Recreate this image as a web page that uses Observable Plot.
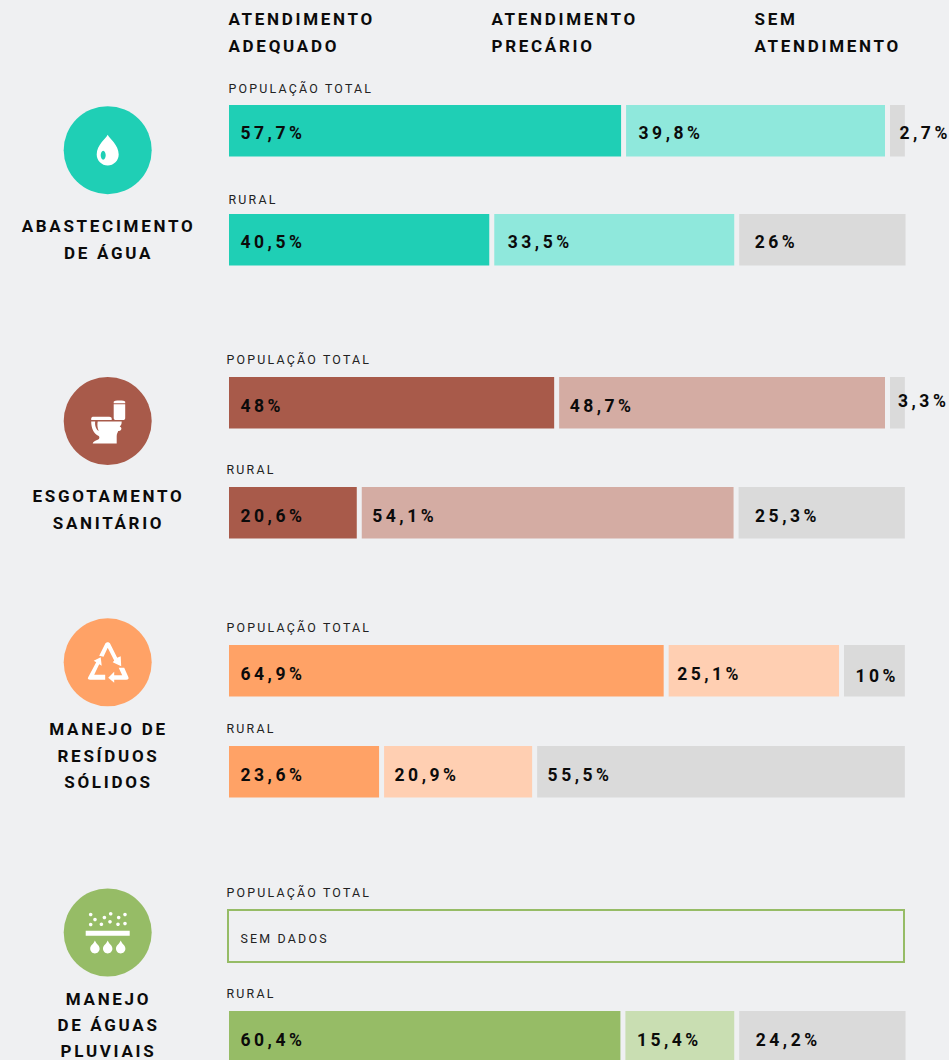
<!DOCTYPE html>
<html lang="pt-BR">
<head>
<meta charset="utf-8">
<script src="https://cdn.jsdelivr.net/npm/d3@7"></script>
<script src="https://cdn.jsdelivr.net/npm/@observablehq/plot@0.6"></script>
<style>
html,body{margin:0;padding:0;background:#eff0f2;overflow:hidden}
svg{display:block}
g[font-size="17.5"] text{letter-spacing:3.5px}
g[font-size="17"] text{letter-spacing:2.7px}
g[font-size="12.4"] text{letter-spacing:2.2px}
</style>
</head>
<body>
<div id="chart"></div>
<script>
// ---- data ----
const headers = ["ATENDIMENTO\nADEQUADO", "ATENDIMENTO\nPRECÁRIO", "SEM\nATENDIMENTO"];
const services = ["ABASTECIMENTO\nDE ÁGUA", "ESGOTAMENTO\nSANITÁRIO", "MANEJO DE\nRESÍDUOS\nSÓLIDOS", "MANEJO\nDE ÁGUAS\nPLUVIAIS"];
const groups = ["POPULAÇÃO TOTAL", "RURAL"];
const noData = "SEM DADOS";

// printed percentages, [adequado, precário, sem], total then rural; null = sem dados
const aguaTotal = [57.7, 39.8, 2.7];
const aguaRural = [40.5, 33.5, 26];
const esgotoTotal = [48, 48.7, 3.3];
const esgotoRural = [20.6, 54.1, 25.3];
const residuosTotal = [64.9, 25.1, 10];
const residuosRural = [23.6, 20.9, 55.5];
const pluviaisTotal = null;
const pluviaisRural = [60.4, 15.4, 24.2];

// bar lengths as measured in the picture, % of the full bar width
const aguaTotalDrawn = [58.0, 38.3, 2.2];
const aguaRuralDrawn = [38.5, 35.5, 24.6];
const esgotoTotalDrawn = [48.1, 48.2, 2.2];
const esgotoRuralDrawn = [18.9, 55.0, 24.6];
const residuosTotalDrawn = [64.3, 25.2, 9.0];
const residuosRuralDrawn = [22.2, 21.9, 54.4];
const pluviaisRuralDrawn = [57.9, 16.1, 24.6];

const strong = ["#1fcfb5", "#a85a4a", "#ffa266", "#96bc66"];
const soft = ["#8fe8dc", "#d4aca3", "#ffcfb2", "#c9deb2"];
const none = "#dadada";
const ink = "#0b0b0b";

// ---- layout ----
const W = 949, H = 1060, BG = "#eff0f2";
const barL = 229, barR = 905, barH = 51.5, gapPx = 5;
const toX = px => (px - barL) / (barR - barL) * 100;
const rowTop = [105, 214, 377, 487, 645, 746, 910, 1011];
const groupY = [89, 200, 360, 470, 628, 729, 893, 994];
const groupX = [228, 228, 226, 226, 226, 226, 226, 226];
const valueDy = [28, 28, 29, 29, 29, 29, 0, 29];
const labelOff = [
  [11, 12, 11], [11, 13, 15], [11, 10, 8], [11, 10, 16],
  [11, 8, 11], [11, 10, 10], null, [11, 11, 16]
];
const circleY = [149.7, 420.5, 661.8, 932], circleX = 107.2;
const serviceY = [226, 496, 729, 999];
const serviceLead = [27, 27, 26.6, 26];

const printed = [aguaTotal, aguaRural, esgotoTotal, esgotoRural, residuosTotal, residuosRural, pluviaisTotal, pluviaisRural];
const drawn = [aguaTotalDrawn, aguaRuralDrawn, esgotoTotalDrawn, esgotoRuralDrawn, residuosTotalDrawn, residuosRuralDrawn, null, pluviaisRuralDrawn];

const gapUnits = gapPx / (barR - barL) * 100;
const pct = v => String(v).replace(".", ",") + "%";
const segs = [];
printed.forEach((vals, r) => {
  if (!vals) return;
  let start = 0;
  vals.forEach((v, k) => {
    const len = drawn[r][k];
    segs.push({
      x1: start, x2: start + len, y1: rowTop[r], y2: rowTop[r] + barH,
      fill: k === 0 ? strong[r >> 1] : k === 1 ? soft[r >> 1] : none,
      label: pct(v),
      lx: start + labelOff[r][k] / (barR - barL) * 100,
      ly: rowTop[r] + valueDy[r]
    });
    start += len + gapUnits;
  });
});
// third-column labels placed apart in the reference
const lab27 = segs.find(d => d.label === "2,7%"); lab27.lx = toX(899);
const lab33 = segs.find(d => d.label === "3,3%"); lab33.lx = toX(897.5); lab33.ly -= 5;
const lab10 = segs.find(d => d.label === "10%"); lab10.ly += 2;

const headRows = headers.flatMap((h, i) => h.split("\n").map((t, j) => ({t, x: toX([228, 491, 754][i]), y: 19 + j * 27})));
const groupRows = rowTop.map((_, r) => ({t: groups[r % 2], x: toX(groupX[r]), y: groupY[r]}));
const serviceRows = services.flatMap((s, i) => s.split("\n").map((t, j) => ({t, y: serviceY[i] + j * serviceLead[i]})));

// icon outlines in px around the circle centre
function pathSymbol(d) {
  const toks = d.match(/[MLCQZ]|-?[\d.]+/g);
  return {draw(ctx, size) {
    const k = Math.sqrt(size / Math.PI);
    let i = 0, c;
    const n = () => +toks[i++] * k;
    while (i < toks.length) {
      if (/[A-Z]/.test(toks[i])) c = toks[i++];
      if (c === "M") ctx.moveTo(n(), n());
      else if (c === "L") ctx.lineTo(n(), n());
      else if (c === "Q") ctx.quadraticCurveTo(n(), n(), n(), n());
      else if (c === "C") ctx.bezierCurveTo(n(), n(), n(), n(), n(), n());
      else ctx.closePath();
    }
  }};
}
const blob = (cx, cy, r) => `M${cx - r} ${cy}C${cx - r} ${cy - r * 0.55} ${cx - r * 0.55} ${cy - r} ${cx} ${cy - r}C${cx + r * 0.55} ${cy - r} ${cx + r} ${cy - r * 0.55} ${cx + r} ${cy}C${cx + r} ${cy + r * 0.55} ${cx + r * 0.55} ${cy + r} ${cx} ${cy + r}C${cx - r * 0.55} ${cy + r} ${cx - r} ${cy + r * 0.55} ${cx - r} ${cy}Z`;
const drop = (cx, top, bot, r) => `M${cx} ${top}C${cx + 1.5} ${top + 4} ${cx + r} ${bot - 2 * r + 1} ${cx + r} ${bot - r}C${cx + r} ${bot - r * 0.45} ${cx + r * 0.55} ${bot} ${cx} ${bot}C${cx - r * 0.55} ${bot} ${cx - r} ${bot - r * 0.45} ${cx - r} ${bot - r}C${cx - r} ${bot - 2 * r + 1} ${cx - 1.5} ${top + 4} ${cx} ${top}Z`;

const dropIcon = pathSymbol(drop(0, -15.5, 15.2, 11) +
  "M-4.5 0.5C-6 0.5 -7 3 -7 5C-7 7 -6 9.5 -4.5 9.5C-3 9.5 -2 7 -2 5C-2 3 -3 0.5 -4.5 0.5Z");
const toiletIcon = pathSymbol(
  "M6 -19.2C6 -20.8 17.5 -20.8 17.5 -19.2L17.5 -17.7L6 -17.7Z" +
  "M6 -16.8L17.5 -16.8L17.5 -3C17.5 -1.5 16.5 -1 15.5 -1L8 -1C7 -1 6 -1.5 6 -3Z" +
  "M-16.5 -2.5C-16.5 -3.8 -15.5 -4.3 -14 -4.3L1.5 -4.3C3 -4.3 4 -3.5 4 -2.5L4 -1L-16.5 -1Z" +
  "M-16.5 0.5L-12.5 0.5C-13 4 -12 8 -9 10C-10.5 6.5 -10.5 3 -10 0.5L14 0.5C14 3 13.5 4 12 5.5C13.5 6 14 7 13.5 8.5C13 9.8 11.5 10 10.5 10C10 11.5 9 13 9 15L9 22.5L-15 22.5C-15 21 -13 20 -9.5 18.5C-8 17.5 -8 16 -9 15C-14 13 -16.5 7 -16.5 0.5Z");
const recycleIcon = pathSymbol(
  "M-8.5 -6.5L-2.5 -18.5C-1.5 -20.5 1.5 -20.5 2.5 -18.5L9.5 -4.5L13 -6L13.5 4L5 0L6.5 -1.8L0 -14.5L-4.2 -5.5Z" +
  "M-19.5 15L-11.5 0L-14 -1.5L-7 -5L-6 3.5L-8.5 2L-13.5 12.5L-2.5 12.5L-2.5 17.5L-17.5 17.5C-19.5 17.5 -20.5 16.5 -19.5 15Z" +
  "M11 5.5L16.5 5.5L20.5 14.5C21.5 16.5 20.5 17.5 18.5 17.5L6.5 17.5L6.5 20.5L0.5 15.5L6.5 9.5L6.5 13L14.5 13Z");
const rainDots = [[-17, -18], [-12.7, -13], [-17, -8], [-6.3, -8.3], [-3.3, -15], [2.3, -10.7], [3, -18.7], [10.3, -8.3], [11, -15], [17.3, -18], [17.3, -9]];
const rainIcon = pathSymbol(
  rainDots.map(([x, y]) => blob(x, y, 1.8)).join("") +
  "M-22 -1.7L22 -1.7L22 3.3L-22 3.3Z" +
  drop(-12.8, 8, 21, 4.7) + drop(0, 8, 21, 4.7) + drop(13, 8, 21, 4.7));
const icons = [dropIcon, toiletIcon, recycleIcon, rainIcon];

const chart = Plot.plot({
  width: W, height: H, margin: 0,
  x: {domain: [0, 100], range: [barL, barR], axis: null},
  y: {domain: [0, H], range: [0, H], axis: null},
  color: {type: "identity"},
  style: {background: BG, fontFamily: "Roboto, sans-serif", color: ink},
  marks: [
    Plot.rect(segs, {x1: "x1", x2: "x2", y1: "y1", y2: "y2", fill: "fill"}),
    Plot.rect([{}], {x1: () => toX(228), x2: () => toX(904), y1: () => rowTop[6], y2: () => rowTop[6] + 52, fill: "none", stroke: strong[3], strokeWidth: 2}),
    Plot.text(segs, {x: "lx", y: "ly", text: "label", textAnchor: "start", fontSize: 17.5, fontWeight: 700, fill: ink}),
    Plot.text(headRows, {x: "x", y: "y", text: "t", textAnchor: "start", fontSize: 17, fontWeight: 700, fill: ink}),
    Plot.text(groupRows, {x: "x", y: "y", text: "t", textAnchor: "start", fontSize: 12.4, fontWeight: 400, fill: "#222"}),
    Plot.text([noData], {x: () => toX(240), y: () => rowTop[6] + 28.5, text: d => d, textAnchor: "start", fontSize: 12.4, fontWeight: 400, fill: "#222"}),
    Plot.text(serviceRows, {x: () => toX(108), y: "y", text: "t", textAnchor: "middle", fontSize: 17, fontWeight: 700, fill: ink}),
    Plot.dot(services, {x: () => toX(circleX), y: (d, i) => circleY[i], r: 44, fill: (d, i) => strong[i]}),
    ...icons.map((sym, i) => Plot.dot([services[i]], {x: () => toX(circleX), y: () => circleY[i], r: 1, symbol: sym, fill: "#fff", stroke: "none"}))
  ]
});
document.getElementById("chart").append(chart);
</script>
</body>
</html>
